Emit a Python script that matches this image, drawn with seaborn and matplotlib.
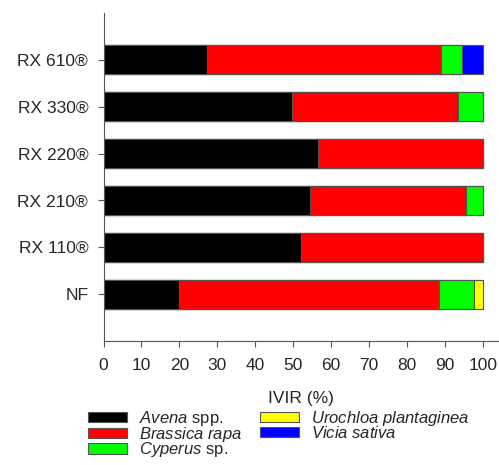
import matplotlib
matplotlib.use("Agg")
import matplotlib.pyplot as plt
from matplotlib.patches import Patch
import numpy as np
import seaborn as sns

categories = ["RX 610®", "RX 330®", "RX 220®", "RX 210®", "RX 110®", "NF"]
avena = [27.2, 49.7, 56.5, 54.5, 52.0, 19.8]
brassica = [61.7, 43.7, 43.5, 40.9, 48.0, 68.5]
cyperus = [5.5, 6.6, 0.0, 4.6, 0.0, 9.3]
urochloa = [0.0, 0.0, 0.0, 0.0, 0.0, 2.4]
vicia = [5.6, 0.0, 0.0, 0.0, 0.0, 0.0]

species = [r"$\it{Avena}$ spp.", r"$\it{Brassica\ rapa}$", r"$\it{Cyperus}$ sp.",
           r"$\it{Urochloa\ plantaginea}$", r"$\it{Vicia\ sativa}$"]
colors = ["#000000", "#ff0000", "#00ff00", "#ffff00", "#0000ff"]

sns.set_style("ticks")
plt.rcParams["font.family"] = ["Liberation Sans", "DejaVu Sans"]
plt.rcParams["mathtext.fontset"] = "custom"
plt.rcParams["mathtext.rm"] = "Liberation Sans"
plt.rcParams["mathtext.it"] = "Liberation Sans:italic"

fig = plt.figure(figsize=(4.99, 4.65), dpi=100)
ax = fig.add_axes([103.5 / 499, 124 / 465, 1 - 103.5 / 499, (341 - 13) / 465])

# stacked bars: draw cumulative totals from widest to narrowest
series = [avena, brassica, cyperus, urochloa, vicia]
cum = np.cumsum(np.array(series), axis=0)
for i in range(len(series) - 1, -1, -1):
    sns.barplot(x=cum[i], y=categories, orient="h", color=colors[i],
                saturation=1, width=0.62, edgecolor="#555555", linewidth=0.8,
                ax=ax)

ax.set_xlim(0, 104.2)
ax.set_ylim(6, -1)
ax.set_xticks(range(0, 101, 10))
ax.set_xlabel("IVIR (%)", fontsize=12.5)
ax.xaxis.set_label_coords(0.5, -0.152)
ax.set_ylabel("")
ax.tick_params(axis="both", labelsize=12.5, length=4, width=0.8,
               color="#555555")
ax.tick_params(axis="x", pad=8)
ax.tick_params(axis="y", pad=7)
sns.despine(ax=ax)
for s in ["left", "bottom"]:
    ax.spines[s].set_color("#555555")
    ax.spines[s].set_linewidth(0.8)

handles = [Patch(facecolor=c, edgecolor="#555555", linewidth=0.8) for c in colors]
fig.legend(handles, species, loc="upper left", bbox_to_anchor=(88 / 499, 1 - 409 / 465),
           ncol=2, frameon=False, fontsize=12, borderpad=0, borderaxespad=0,
           handlelength=2.35, handleheight=0.57, handletextpad=0.7,
           labelspacing=-0.2, columnspacing=1.07)

fig.savefig("out.png", dpi=100)
